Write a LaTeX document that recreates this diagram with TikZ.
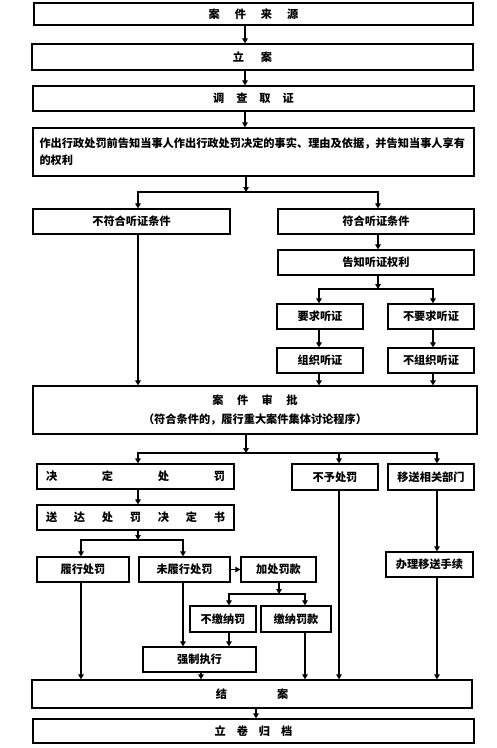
\documentclass[tikz,border=0pt]{standalone}
\usepackage{fontspec}
\setmainfont{Noto Sans CJK SC}
\usetikzlibrary{arrows.meta}
\begin{document}
\begin{tikzpicture}[x=1pt,y=-1pt,
  bx/.style={draw, line width=1.3pt, inner sep=0pt, font=\bfseries\fontsize{11.2}{19}\selectfont},
  arr/.style={line width=1.6pt, -{Triangle[length=5pt,width=5.5pt]}},
  ln/.style={line width=1.6pt}]
\useasboundingbox[fill=white] (0,0) rectangle (496,748);
% boxes
\node[bx, line width=2.4pt, minimum width=439pt, minimum height=22pt] (src) at (253.5,14) {案\hspace{15pt}件\hspace{15pt}来\hspace{15pt}源\hspace{9pt}};
\node[bx, minimum width=441pt, minimum height=26pt] (la) at (252.5,57) {立\hspace{17pt}案\hspace{22pt}};
\node[bx, minimum width=441pt, minimum height=25pt] (dc) at (253.5,98.5) {调\hspace{12pt}查\hspace{12pt}取\hspace{12pt}证\hspace{15pt}};
\node[bx, minimum width=441pt, minimum height=48pt, text width=428pt, align=left, font=\bfseries\fontsize{11.2}{17}\selectfont] (gz) at (253.5,152) {作出行政处罚前告知当事人作出行政处罚决定的事实、理由及依据，并告知当事人享有\\的权利};
\node[bx, minimum width=197pt, minimum height=25pt] (nf) at (131.5,221.5) {不符合听证条件};
\node[bx, minimum width=196pt, minimum height=25pt] (fh) at (376,221.5) {符合听证条件};
\node[bx, minimum width=196pt, minimum height=25pt] (gzq) at (376,262.5) {告知听证权利};
\node[bx, minimum width=86pt, minimum height=25pt] (yq) at (320,316.5) {要求听证};
\node[bx, minimum width=86pt, minimum height=25pt] (byq) at (431,316.5) {不要求听证};
\node[bx, minimum width=86pt, minimum height=25pt] (zz) at (320,360.5) {组织听证};
\node[bx, minimum width=86pt, minimum height=25pt] (bzz) at (431,360.5) {不组织听证};
\node[bx, minimum width=444pt, minimum height=48pt, align=center] (sp) at (255,410) {案\hspace{13.5pt}件\hspace{13.5pt}审\hspace{13.5pt}批\hspace{40pt}\\（符合条件的，履行重大案件集体讨论程序）\hspace{42pt}};
\node[bx, minimum width=197pt, minimum height=25pt] (jd) at (135.5,476.5) {\makebox[179pt]{决\hfill 定\hfill 处\hfill 罚}};
\node[bx, minimum width=86pt, minimum height=26pt] (byc) at (335,477) {不予处罚};
\node[bx, minimum width=86pt, minimum height=26pt] (ys) at (431,477) {移送相关部门};
\node[bx, minimum width=197pt, minimum height=25pt] (sd) at (135.5,517.5) {\makebox[179pt]{送\hfill 达\hfill 处\hfill 罚\hfill 决\hfill 定\hfill 书}};
\node[bx, minimum width=92pt, minimum height=25pt] (lx) at (83,569.5) {履行处罚};
\node[bx, minimum width=91pt, minimum height=25pt] (wlx) at (184.5,569.5) {未履行处罚};
\node[bx, minimum width=75pt, minimum height=25pt] (jc) at (278.5,569.5) {加处罚款};
\node[bx, minimum width=87pt, minimum height=25pt] (bl) at (429.5,564.5) {办理移送手续};
\node[bx, minimum width=66pt, minimum height=26pt] (bjn) at (223,619) {不缴纳罚};
\node[bx, minimum width=70pt, minimum height=26pt] (jn) at (296,619) {缴纳罚款};
\node[bx, minimum width=113pt, minimum height=25pt] (qz) at (199.5,659.5) {强制执行};
\node[bx, minimum width=440pt, minimum height=28pt] (ja) at (252,694) {结\hspace{50pt}案};
\node[bx, minimum width=441pt, minimum height=24pt] (lj) at (253.5,731) {立\hspace{11pt}卷\hspace{11pt}归\hspace{11pt}档};
% reference coordinates
\coordinate (x245) at (245,0);
\coordinate (b1) at (246,192);
\coordinate (b1l) at (138,192);
\coordinate (b1r) at (378,192);
\coordinate (b2) at (378,289);
\coordinate (b2l) at (319,289);
\coordinate (b2r) at (433,289);
\coordinate (b3) at (246,453);
\coordinate (b3l) at (138,453);
\coordinate (b3m) at (339,453);
\coordinate (b3r) at (437,453);
\coordinate (b4) at (138,540);
\coordinate (b4l) at (81,540);
\coordinate (b4r) at (183,540);
\coordinate (b5) at (279,594);
\coordinate (b5l) at (229,594);
\coordinate (b5r) at (305,594);
\coordinate (x201) at (201,0);
\coordinate (x256) at (256,0);
% connectors
\draw[arr] (src.south -| x245) -- (la.north -| x245);
\draw[arr] (la.south -| x245) -- (dc.north -| x245);
\draw[arr] (dc.south -| x245) -- (gz.north -| x245);
\draw[arr] (gz.south -| b1) -- (b1);
\draw[arr] (b1) -| (nf.north -| b1l);
\draw[arr] (b1) -| (fh.north -| b1r);
\draw[arr] (nf.south -| b1l) -- (sp.north -| b1l);
\draw[arr] (fh.south -| b1r) -- (gzq.north -| b1r);
\draw[arr] (gzq.south -| b2) -- (b2);
\draw[arr] (b2) -| (yq.north -| b2l);
\draw[arr] (b2) -| (byq.north -| b2r);
\draw[arr] (yq.south -| b2l) -- (zz.north -| b2l);
\draw[arr] (byq.south -| b2r) -- (bzz.north -| b2r);
\draw[arr] (zz.south -| b2l) -- (sp.north -| b2l);
\draw[arr] (bzz.south -| b2r) -- (sp.north -| b2r);
\draw[arr] (sp.south -| b3) -- (b3);
\draw[arr] (b3) -| (jd.north -| b3l);
\draw[arr] (b3) -| (ys.north -| b3r);
\draw[arr] (b3m) -- (byc.north -| b3m);
\draw[arr] (jd.south -| b3l) -- (sd.north -| b3l);
\draw[arr] (sd.south -| b4) -- (b4);
\draw[arr] (b4) -| (lx.north -| b4l);
\draw[arr] (b4) -| (wlx.north -| b4r);
\draw[arr] (wlx.east) -- (jc.west);
\draw[arr] (jc.south -| b5) -- (b5);
\draw[arr] (b5) -| (bjn.north -| b5l);
\draw[arr] (b5) -| (jn.north -| b5r);
\draw[arr] (lx.south -| b4l) -- (ja.north -| b4l);
\draw[arr] (wlx.south -| b4r) -- (qz.north -| b4r);
\draw[arr] (bjn.south -| b5l) -- (qz.north -| b5l);
\draw[arr] (qz.south -| x201) -- (ja.north -| x201);
\draw[arr] (jn.south -| b5r) -- (ja.north -| b5r);
\draw[arr] (byc.south -| b3m) -- (ja.north -| b3m);
\draw[arr] (ys.south -| b3r) -- (bl.north -| b3r);
\draw[arr] (bl.south -| b3r) -- (ja.north -| b3r);
\draw[arr] (ja.south -| x256) -- (lj.north -| x256);
\end{tikzpicture}
\end{document}
